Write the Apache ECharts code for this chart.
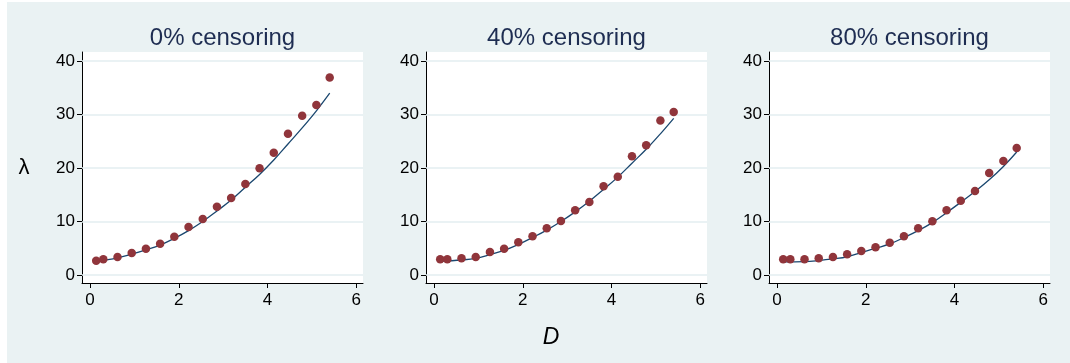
<!DOCTYPE html>
<html>
<head>
<meta charset="utf-8">
<script src="https://cdn.jsdelivr.net/npm/echarts@6/dist/echarts.min.js"></script>
<style>
  html, body { margin: 0; padding: 0; background: #ffffff; }
  #wrap { position: relative; width: 1070px; height: 363px; }
  #bg { position: absolute; left: 7px; top: 2px; right: 0; bottom: 0; background: #eaf2f3; }
  #chart { position: absolute; left: 0; top: 0; width: 1070px; height: 363px; }
</style>
</head>
<body>
<div id="wrap"><div id="bg"></div><div id="chart"></div></div>
<script>
// ---- data ----
const TITLES = ['0% censoring', '40% censoring', '80% censoring'];
const X_POINTS = [0.14, 0.3, 0.62, 0.94, 1.26, 1.58, 1.9, 2.22, 2.54, 2.86, 3.18, 3.5, 3.82, 4.14, 4.46, 4.78, 5.1, 5.4];
const Y_POINTS_0  = [2.67, 2.93, 3.36, 4.11, 4.92, 5.85, 7.16, 8.97, 10.47, 12.77, 14.39, 17.01, 19.94, 22.86, 26.41, 29.78, 31.78, 36.95];
const Y_POINTS_40 = [2.93, 2.93, 3.12, 3.36, 4.30, 4.92, 6.11, 7.23, 8.73, 10.09, 12.09, 13.64, 16.58, 18.37, 22.19, 24.24, 28.91, 30.47];
const Y_POINTS_80 = [2.93, 2.93, 2.93, 3.12, 3.36, 3.87, 4.49, 5.18, 6.04, 7.23, 8.73, 10.04, 12.09, 13.89, 15.70, 19.07, 21.31, 23.74];
const X_FIT = [0.14, 0.62, 0.94, 1.26, 1.58, 1.9, 2.22, 2.54, 2.86, 3.18, 3.5, 3.82, 4.14, 4.46, 4.78, 5.1, 5.4];
const FIT_0  = [2.5, 3.2, 3.9, 4.7, 5.6, 6.85, 8.3, 10.0, 11.96, 14.0, 16.4, 18.8, 21.5, 24.5, 27.5, 30.7, 34.0];
const FIT_40 = [2.55, 2.8, 3.1, 3.8, 4.6, 5.7, 7.0, 8.4, 10.0, 11.8, 13.8, 16.0, 18.3, 20.9, 23.5, 26.4, 29.3];
const FIT_80 = [2.45, 2.5, 2.7, 3.0, 3.4, 4.2, 5.0, 5.8, 7.0, 8.3, 9.8, 11.65, 13.6, 15.6, 17.8, 20.3, 23.0];
const Y_TICKS = [0, 10, 20, 30, 40];
const X_TICKS = [0, 2, 4, 6];
const Y_LABEL = 'λ';
const X_LABEL = 'D';

const POINT_SETS = [Y_POINTS_0, Y_POINTS_40, Y_POINTS_80];
const FIT_SETS = [FIT_0, FIT_40, FIT_80];

const FONT = "'Liberation Sans', Arial, sans-serif";
const GRID_LEFTS = [82, 426, 769];
const GRID_TOP = 52, GRID_W = 281, GRID_H = 231;

const grids = [], xAxes = [], yAxes = [], series = [], graphics = [];

GRID_LEFTS.forEach((left, i) => {
  grids.push({ left: left, top: GRID_TOP, width: GRID_W, height: GRID_H,
    show: true, backgroundColor: '#ffffff', borderWidth: 0 });
  xAxes.push({
    type: 'value', gridIndex: i, min: -0.18, max: 6.15,
    axisLine: { show: true, onZero: false, lineStyle: { color: '#000', width: 1 } },
    axisTick: { show: true, length: 5, lineStyle: { color: '#000' }, customValues: X_TICKS },
    axisLabel: { show: true, customValues: X_TICKS, color: '#000', fontSize: 17, fontFamily: FONT, margin: 9 },
    splitLine: { show: false }
  });
  yAxes.push({
    type: 'value', gridIndex: i, min: -1.5, max: 41.7,
    axisLine: { show: true, onZero: false, lineStyle: { color: '#000', width: 1 } },
    axisTick: { show: true, length: 5, lineStyle: { color: '#000' }, customValues: Y_TICKS },
    axisLabel: { show: true, customValues: Y_TICKS, color: '#000', fontSize: 17, fontFamily: FONT, margin: 7 },
    splitLine: { show: false }
  });
  series.push({
    type: 'line', xAxisIndex: i, yAxisIndex: i,
    data: X_FIT.map((x, k) => [x, FIT_SETS[i][k]]),
    smooth: 0.4, showSymbol: false, symbol: 'none',
    lineStyle: { color: '#1a476f', width: 1.3 },
    z: 3,
    markLine: {
      silent: true, symbol: 'none', label: { show: false }, z: 1,
      lineStyle: { color: '#e3eef0', width: 1.7, type: 'solid' },
      data: Y_TICKS.map(v => ({ yAxis: v }))
    }
  });
  series.push({
    type: 'scatter', xAxisIndex: i, yAxisIndex: i,
    data: X_POINTS.map((x, k) => [x, POINT_SETS[i][k]]),
    symbol: 'circle', symbolSize: 8.5,
    itemStyle: { color: '#90353b', opacity: 1 },
    z: 4
  });
  graphics.push({
    type: 'text',
    style: { text: TITLES[i], x: left + GRID_W / 2, y: 38, align: 'center', verticalAlign: 'middle',
      fill: '#1e2d52', font: '24px ' + FONT }
  });
});

graphics.push({
  type: 'text',
  style: { text: Y_LABEL, x: 24, y: 168, align: 'center', verticalAlign: 'middle',
    fill: '#000', font: '22px ' + FONT }
});
graphics.push({
  type: 'text',
  style: { text: X_LABEL, x: 551, y: 338, align: 'center', verticalAlign: 'middle',
    fill: '#000', font: 'italic 23px ' + FONT }
});

const chart = echarts.init(document.getElementById('chart'), null, { renderer: 'canvas' });
chart.setOption({
  backgroundColor: 'transparent',
  animation: false,
  grid: grids, xAxis: xAxes, yAxis: yAxes, series: series,
  graphic: graphics
});
</script>
</body>
</html>
